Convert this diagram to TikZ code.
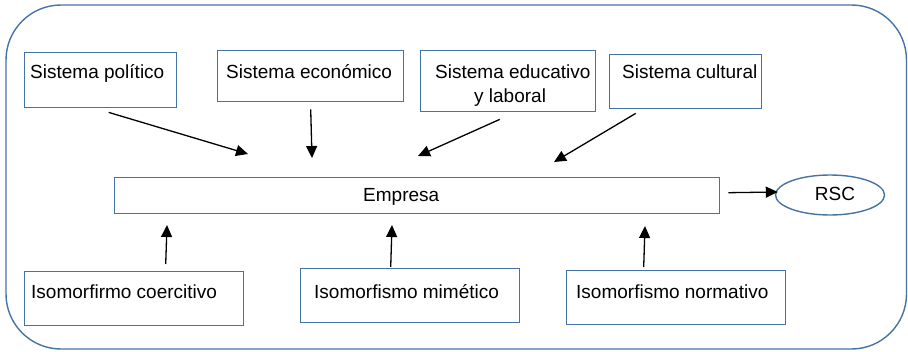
\documentclass[tikz,border=0pt]{standalone}
\usepackage{fontspec}
\setmainfont{Liberation Sans}
\usetikzlibrary{arrows.meta,shapes.geometric}
\definecolor{frameblue}{RGB}{70,115,165}
\tikzset{
  box/.style={draw=frameblue, line width=1.4pt, rectangle, inner sep=0pt, anchor=north west},
  oval/.style={draw=frameblue, line width=1.4pt, ellipse, inner sep=0pt},
  txt/.style={inner sep=0pt, font=\fontsize{19}{24}\selectfont, anchor=base west},
  arr/.style={line width=1.3pt, -{Triangle[length=12pt,width=11pt]}}
}
\begin{document}
\begin{tikzpicture}[x=1pt,y=-1pt]
\useasboundingbox (0,0) rectangle (908,351);
\draw[frameblue, line width=1.4pt, rounded corners=55pt] (6,5) rectangle (906.5,349);
% boxes
\node[box, minimum width=152pt, minimum height=55pt] (pol) at (24,52) {};
\node[box, minimum width=186pt, minimum height=51pt] (eco) at (217,50) {};
\node[box, minimum width=175pt, minimum height=61pt] (edu) at (420,50) {};
\node[box, minimum width=152pt, minimum height=54pt] (cul) at (609,54) {};
\node[box, minimum width=605pt, minimum height=36pt] (emp) at (114,177) {};
\node[oval, minimum width=109pt, minimum height=40pt] (rsc) at (830,195) {};
\node[box, minimum width=219pt, minimum height=54pt] (coe) at (24,271) {};
\node[box, minimum width=219pt, minimum height=54pt] (mim) at (300,268) {};
\node[box, minimum width=219pt, minimum height=54pt] (nor) at (566,270) {};
% texts
\node[txt] (tpol) at (30,78) {Sistema político};
\node[txt] (teco) at (226,78) {Sistema económico};
\node[txt] (tedu1) at (435,78) {Sistema educativo};
\node[txt] (tedu2) at (474,102) {y laboral};
\node[txt] (tcul) at (622,78) {Sistema cultural};
\node[txt] (temp) at (363,201) {Empresa};
\node[txt, anchor=base] (trsc) at (835,200) {RSC};
\node[txt] (tcoe) at (31,298) {Isomorfirmo coercitivo};
\node[txt] (tmim) at (314,298) {Isomorfismo mimético};
\node[txt] (tnor) at (576,298) {Isomorfismo normativo};
% arrow ends
\coordinate (epol) at (248,154);
\coordinate (eeco) at (312,158);
\coordinate (eedu) at (418,156);
\coordinate (ecul) at (554,162);
\coordinate (ecoe) at (167,225);
\coordinate (emim) at (392,225);
\coordinate (enor) at (645,226);
% arrows
\draw[arr] ([shift={(8,4)}]pol.south) -- (epol);
\draw[arr] ([shift={(0,7)}]eco.south) -- (eeco);
\draw[arr] ([shift={(-8.5,7)}]edu.south) -- (eedu);
\draw[arr] ([shift={(-50,4)}]cul.south) -- (ecul);
\draw[arr] ([shift={(31.5,-7)}]coe.north) -- (ecoe);
\draw[arr] ([shift={(-19.5,-1)}]mim.north) -- (emim);
\draw[arr] ([shift={(-32.5,-3)}]nor.north) -- (enor);
\draw[arr] ([shift={(8,-3)}]emp.east) -- ([shift={(3,-3)}]rsc.west);
\end{tikzpicture}
\end{document}
